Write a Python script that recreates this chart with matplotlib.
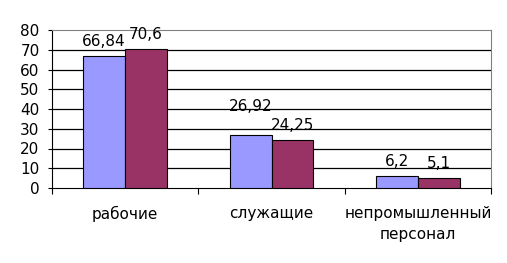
import numpy as np
import matplotlib
matplotlib.use("Agg")
import matplotlib.pyplot as plt

categories = ["рабочие", "служащие", "непромышленный\nперсонал"]
series_a = [66.84, 26.92, 6.2]
series_b = [70.6, 24.25, 5.1]
labels_a = ["66,84", "26,92", "6,2"]
labels_b = ["70,6", "24,25", "5,1"]
yticks = [0, 10, 20, 30, 40, 50, 60, 70, 80]

plt.rcParams['font.family'] = ['DejaVu Sans']

fig = plt.figure(figsize=(5.07, 2.63), dpi=100)
ax = fig.add_axes([52 / 507, 1 - 188 / 263, 439 / 507, 158 / 263])

x = np.arange(len(categories))
w = 0.287
bars_a = ax.bar(x - w / 2, series_a, w, color='#9999FF', edgecolor='black', linewidth=0.8, zorder=3)
bars_b = ax.bar(x + w / 2, series_b, w, color='#993366', edgecolor='black', linewidth=0.8, zorder=3)

# label offsets in points (excel pushed the middle blue label up)
offs_a = [5, 15, 5]
offs_b = [5, 5, 5]
for bars, labs, offs in [(bars_a, labels_a, offs_a), (bars_b, labels_b, offs_b)]:
    for b, lab, off in zip(bars, labs, offs):
        ax.annotate(lab, (b.get_x() + b.get_width() / 2, b.get_height()),
                    xytext=(0, off), textcoords='offset points',
                    ha='center', va='bottom', fontsize=11)

ax.set_xlim(-0.5, 2.5)
ax.set_ylim(0, 80)
ax.set_yticks(yticks)
ax.set_yticklabels([str(t) for t in yticks], fontsize=11)
for t in yticks[1:-1]:
    ax.axhline(t, color='black', linewidth=0.9, zorder=1)

ax.set_xticks([-0.5, 0.5, 1.5, 2.5], minor=False)
ax.set_xticklabels([])
ax.set_xticks(x, minor=True)
ax.set_xticklabels(categories, minor=True, fontsize=11, linespacing=1.5)
ax.tick_params(axis='x', which='major', length=4, direction='out', color='black')
ax.tick_params(axis='x', which='minor', length=0, pad=13)
ax.tick_params(axis='y', length=3, direction='out', pad=6)

ax.spines['top'].set_color('#808080')
ax.spines['right'].set_color('#808080')
ax.spines['left'].set_color('black')
ax.spines['bottom'].set_color('black')

fig.savefig("out.png", dpi=100)
